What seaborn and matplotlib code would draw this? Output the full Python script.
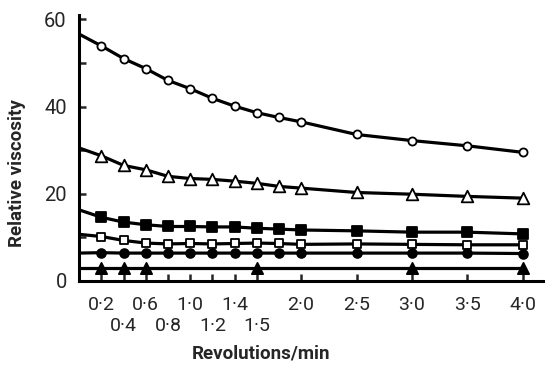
import matplotlib
matplotlib.use("Agg")
import matplotlib.pyplot as plt
import seaborn as sns

# rotation speeds (rev/min) where points were measured
speeds = [0.2, 0.4, 0.6, 0.8, 1.0, 1.2, 1.4, 1.6, 1.8, 2.0, 2.5, 3.0, 3.5, 4.0]

open_circle = [53.9, 51.0, 48.7, 46.0, 44.1, 41.9, 40.1, 38.6, 37.5, 36.5, 33.6, 32.2, 31.0, 29.5]
open_triangle = [28.7, 26.5, 25.5, 24.0, 23.5, 23.3, 22.9, 22.4, 21.7, 21.3, 20.3, 19.9, 19.4, 19.0]
filled_square = [14.6, 13.5, 12.9, 12.5, 12.5, 12.4, 12.4, 12.1, 11.9, 11.7, 11.5, 11.2, 11.2, 10.8]
open_square = [10.2, 9.3, 8.7, 8.5, 8.6, 8.5, 8.6, 8.7, 8.6, 8.4, 8.5, 8.4, 8.3, 8.3]
filled_circle = [6.5, 6.4, 6.4, 6.4, 6.4, 6.4, 6.4, 6.4, 6.4, 6.4, 6.4, 6.4, 6.4, 6.3]

tri_speeds = [0.2, 0.4, 0.6, 1.6, 3.0, 4.0]
filled_triangle = [3.0, 3.0, 3.0, 3.0, 3.0, 3.0]

# where each fitted curve meets the y axis
start_values = [56.6, 30.5, 16.3, 10.7, 6.4, 3.0]

top_ticks = [0.2, 0.6, 1.0, 1.4, 2.0, 2.5, 3.0, 3.5, 4.0]
top_labels = ["0·2", "0·6", "1·0", "1·4", "2·0", "2·5", "3·0", "3·5", "4·0"]
low_ticks = [0.4, 0.8, 1.2, 1.6]
low_labels = ["0·4", "0·8", "1·2", "1·5"]


def draw_series(ax, xs, ys, y0, marker, size, filled):
    sns.lineplot(ax=ax, x=[0.0] + xs, y=[y0] + ys, color="black", lw=2.3,
                 sort=True, estimator=None)
    sns.scatterplot(ax=ax, x=xs, y=ys, marker=marker, s=size,
                    color="black" if filled else "white",
                    edgecolor="black", linewidth=1.3, zorder=4)


def main():
    sns.set_style("white")
    plt.rcParams["font.family"] = ["Roboto", "DejaVu Sans"]

    fig = plt.figure(figsize=(5.45, 3.69), dpi=100)
    ax = fig.add_axes([79.3 / 545, 1 - 281 / 369, 465.7 / 545, 266 / 369])

    draw_series(ax, speeds, open_circle, start_values[0], "o", 34, False)
    draw_series(ax, speeds, open_triangle, start_values[1], "^", 70, False)
    draw_series(ax, speeds, filled_square, start_values[2], "s", 55, True)
    draw_series(ax, speeds, open_square, start_values[3], "s", 36, False)
    draw_series(ax, speeds, filled_circle, start_values[4], "o", 40, True)
    draw_series(ax, tri_speeds, filled_triangle, start_values[5], "^", 65, True)

    ax.set_xlim(0, 4.2)
    ax.set_ylim(0, 61)

    ax.set_xticks(top_ticks)
    ax.set_xticklabels(top_labels)
    ax.set_xticks(low_ticks, minor=True)
    ax.set_xticklabels(low_labels, minor=True)
    ax.tick_params(axis="x", which="major", direction="in", length=5, width=1.8,
                   pad=11, labelsize=14)
    ax.tick_params(axis="x", which="minor", direction="in", length=5, width=1.8,
                   pad=26, labelsize=14)

    ax.set_yticks([0, 20, 40, 60])
    ax.set_yticks([10, 30, 50], minor=True)
    ax.tick_params(axis="y", which="both", direction="in", length=5, width=1.8,
                   pad=9, labelsize=14.5, left=True)
    ax.tick_params(axis="x", which="both", bottom=True)

    sns.despine(ax=ax)
    for side in ["left", "bottom"]:
        ax.spines[side].set_linewidth(2.2)
        ax.spines[side].set_color("black")

    ax.set_xlabel("Revolutions/min", fontsize=13.5, fontweight="bold")
    ax.set_ylabel("Relative viscosity", fontsize=13.5, fontweight="bold")
    ax.xaxis.set_label_coords(0.39, -0.24)
    ax.yaxis.set_label_coords(-0.115, 0.404)

    fig.savefig("out.png", dpi=100)


if __name__ == "__main__":
    main()
